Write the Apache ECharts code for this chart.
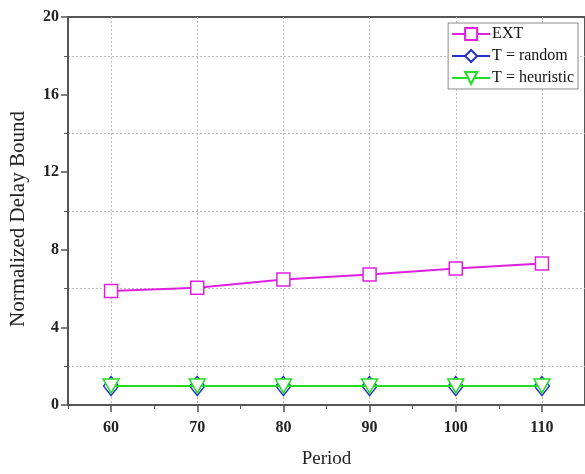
<!DOCTYPE html>
<html>
<head>
<meta charset="utf-8">
<script src="https://cdn.jsdelivr.net/npm/echarts@6/dist/echarts.min.js"></script>
<style>
  html, body { margin: 0; padding: 0; background: #fff; }
  #chart { width: 585px; height: 474px; }
</style>
</head>
<body>
<div id="chart"></div>
<script>
// Period values on the x axis
const periods = [60, 70, 80, 90, 100, 110];
// Normalized delay bound for each method
const extValues = [5.87, 6.04, 6.47, 6.73, 7.04, 7.29];
const randomValues = [0.98, 0.98, 0.98, 0.98, 0.98, 0.98];
const heuristicValues = [0.98, 0.98, 0.98, 0.98, 0.98, 0.98];
const seriesNames = ['EXT', 'T = random', 'T = heuristic'];

const serif = '"Liberation Serif", "DejaVu Serif", serif';
const axisColor = '#555';
const dotted = { color: '#bbb', type: [2, 2], width: 1 };

function pairs(values) {
  return periods.map((p, i) => [p, values[i]]);
}

const chart = echarts.init(document.getElementById('chart'));
chart.setOption({
  animation: false,
  backgroundColor: '#fff',
  grid: { left: 65, top: 17, right: -1, bottom: 69, show: true, borderColor: axisColor, borderWidth: 2, backgroundColor: 'transparent' },
  legend: {
    right: 7, top: 23,
    orient: 'vertical',
    backgroundColor: '#fff',
    borderColor: '#888', borderWidth: 1,
    padding: [3, 4, 3, 3],
    itemGap: 6,
    itemWidth: 38, itemHeight: 15,
    textStyle: { fontFamily: serif, fontSize: 16, color: '#111', padding: [0, 0, 0, -3] },
    data: seriesNames
  },
  xAxis: [
    {
      // labelled axis: long ticks at each period, dotted grid halfway between
      type: 'value', min: 55, max: 115, interval: 10, position: 'bottom',
      name: 'Period', nameLocation: 'middle', nameGap: 45,
      nameTextStyle: { fontFamily: serif, fontSize: 19, color: '#222' },
      axisLine: { show: true, lineStyle: { color: axisColor, width: 2 } },
      axisTick: { show: true, inside: false, length: 7, lineStyle: { color: axisColor, width: 1.5 }, customValues: periods },
      minorTick: { show: false },
      splitLine: { show: true, lineStyle: dotted },
      axisLabel: { fontFamily: serif, fontSize: 16, fontWeight: 'bold', color: '#222', margin: 15, customValues: periods }
    },
    {
      // short minor ticks between the periods
      type: 'value', min: 55, max: 115, interval: 10, position: 'bottom',
      axisLine: { show: false },
      axisTick: { show: true, inside: false, length: 4, lineStyle: { color: axisColor, width: 1 } },
      splitLine: { show: false },
      axisLabel: { show: false }
    }
  ],
  yAxis: {
    type: 'value', min: 0, max: 20, interval: 4,
    name: 'Normalized Delay Bound', nameLocation: 'middle', nameGap: 39,
    nameTextStyle: { fontFamily: serif, fontSize: 21, color: '#222', padding: [0, 16, 0, 0] },
    axisLine: { show: true, lineStyle: { color: axisColor, width: 2 } },
    axisTick: { show: true, inside: false, length: 7, lineStyle: { color: axisColor, width: 1.5 } },
    minorTick: { show: true, splitNumber: 2, length: 4, lineStyle: { color: axisColor } },
    splitLine: { show: false },
    minorSplitLine: { show: true, lineStyle: dotted },
    axisLabel: { fontFamily: serif, fontSize: 16, fontWeight: 'bold', color: '#222', margin: 9 }
  },
  series: [
    {
      name: seriesNames[0], type: 'line', data: pairs(extValues), xAxisIndex: 0,
      symbol: 'rect', symbolSize: 13,
      lineStyle: { color: '#e020e0', width: 2 },
      itemStyle: { color: '#fff', borderColor: '#e020e0', borderWidth: 1.5 },
      z: 3
    },
    {
      name: seriesNames[1], type: 'line', data: pairs(randomValues), xAxisIndex: 0,
      symbol: 'diamond', symbolSize: [15, 19],
      lineStyle: { color: '#2233cc', width: 2 },
      itemStyle: { color: '#fff', borderColor: '#2233cc', borderWidth: 1.5 },
      z: 4
    },
    {
      name: seriesNames[2], type: 'line', data: pairs(heuristicValues), xAxisIndex: 0,
      symbol: 'triangle', symbolRotate: 180, symbolSize: [16, 14],
      lineStyle: { color: '#22dd22', width: 2 },
      itemStyle: { color: '#fff', borderColor: '#22dd22', borderWidth: 1.5 },
      z: 5
    }
  ]
});
</script>
</body>
</html>
